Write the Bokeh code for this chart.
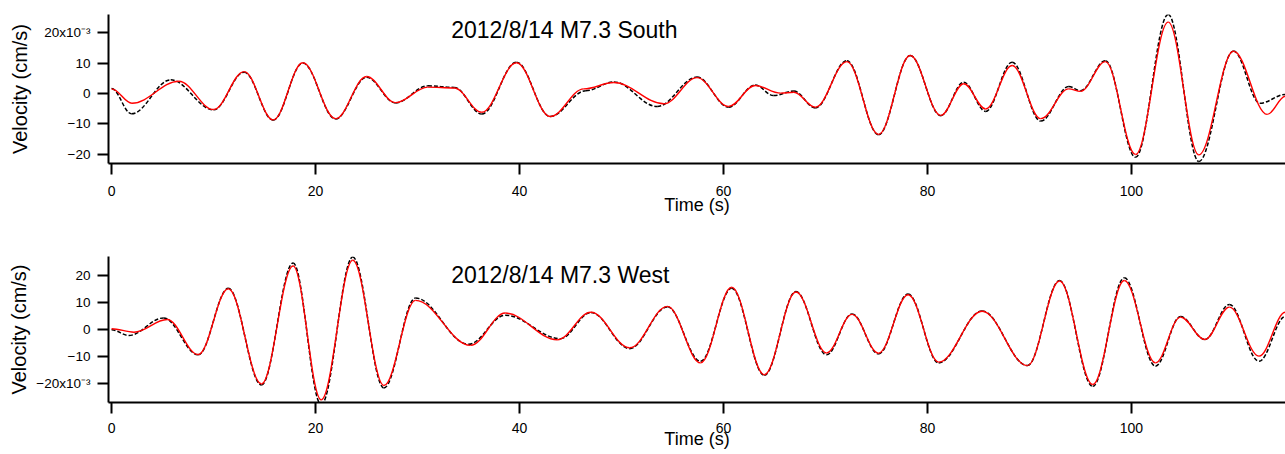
import numpy as np
from bokeh.plotting import figure
from bokeh.layouts import column
from bokeh.models import Range1d, FixedTicker, Label, ColumnDataSource
from bokeh.embed import file_html
from bokeh.resources import INLINE

# Turning points of each trace: time (s) and velocity (x10^-3 cm/s)
south_obs_t = [0, 1.96, 5.8, 10.0, 13.0, 15.85, 18.75, 21.96, 25.0, 27.84, 31.0, 33.6,
               36.3, 39.7, 43.0, 46.5, 49.25, 53.5, 57.4, 60.5, 63.1, 64.9, 66.9, 69.0,
               72.1, 75.2, 78.3, 81.3, 83.55, 85.7, 88.3, 91.1, 93.85, 95.0, 97.45, 100.4,
               103.6, 106.6, 110.0, 112.6, 115.1]
south_obs_v = [1.6, -6.7, 4.5, -5.4, 7.0, -8.8, 10.0, -8.4, 5.3, -3.1, 2.5, 2.0,
               -6.8, 10.3, -7.6, 0.9, 3.8, -4.3, 5.4, -4.5, 2.8, -0.7, 0.8, -4.8,
               10.8, -13.6, 12.5, -7.3, 3.7, -5.9, 10.3, -9.1, 2.3, 0.9, 10.8, -21.0,
               26.0, -22.4, 14.0, -3.2, -0.3]

south_syn_t = [0, 2.0, 6.6, 10.0, 13.0, 15.85, 18.75, 21.96, 25.0, 27.84, 31.0, 33.6,
               36.3, 39.7, 43.0, 46.3, 49.25, 54.15, 57.4, 60.5, 63.1, 65.6, 66.9, 69.0,
               72.1, 75.2, 78.3, 81.3, 83.55, 85.7, 88.3, 91.1, 93.85, 95.0, 97.45, 100.4,
               103.6, 106.6, 110.0, 113.3, 115.1]
south_syn_v = [1.5, -3.2, 4.0, -5.3, 7.2, -8.7, 10.1, -8.3, 5.6, -3.0, 2.1, 1.8,
               -6.2, 10.1, -7.6, 1.5, 3.6, -3.4, 5.2, -4.3, 2.6, 0.1, 0.4, -4.5,
               10.5, -13.5, 12.5, -7.2, 3.2, -5.1, 9.2, -8.3, 1.5, 0.7, 10.5, -20.1,
               23.5, -20.2, 13.9, -6.9, -0.9]

west_obs_t = [0, 1.7, 5.1, 8.5, 11.45, 14.7, 17.8, 20.55, 23.65, 26.7, 29.8, 35.0,
              38.6, 44.0, 47.0, 50.8, 54.5, 57.75, 60.8, 64.0, 67.1, 70.1, 72.6, 75.2,
              78.1, 81.1, 85.35, 89.8, 92.95, 96.2, 99.3, 102.35, 104.8, 107.2, 109.6,
              112.5, 115.1]
west_obs_v = [0.0, -2.1, 4.4, -9.3, 15.4, -20.5, 24.8, -27.8, 27.0, -21.6, 11.8, -5.4,
              5.4, -3.3, 6.4, -7.0, 8.5, -11.7, 15.4, -16.9, 14.2, -9.3, 5.9, -9.0,
              13.3, -12.3, 7.0, -13.3, 18.3, -21.0, 19.3, -13.5, 4.9, -3.6, 9.4,
              -11.7, 5.0]

west_syn_t = [0, 2.2, 5.45, 8.5, 11.45, 14.7, 17.8, 20.55, 23.65, 26.7, 29.8, 35.2,
              38.6, 43.7, 47.0, 50.8, 54.5, 57.75, 60.8, 64.0, 67.1, 70.1, 72.6, 75.2,
              78.1, 81.1, 85.35, 89.8, 92.95, 96.2, 99.3, 102.35, 104.8, 107.2, 109.6,
              112.5, 115.1]
west_syn_v = [0.4, -0.9, 3.8, -9.2, 15.2, -20.1, 23.7, -26.0, 25.8, -20.7, 10.9, -5.8,
              6.2, -3.7, 6.5, -6.7, 8.7, -12.3, 15.8, -16.7, 14.0, -8.6, 5.7, -8.7,
              13.0, -12.0, 6.9, -13.3, 18.1, -20.3, 18.3, -12.3, 4.7, -3.6, 8.4,
              -9.8, 6.5]

time_ticks = [0, 20, 40, 60, 80, 100]
vel_ticks = [-20, -10, 0, 10, 20]
south_tick_labels = ["\u221220", "\u221210", "0", "10", "20x10\u207b\u00b3"]
west_tick_labels = ["\u221220x10\u207b\u00b3", "\u221210", "0", "10", "20"]
time_label = "Time (s)"
vel_label = "Velocity (cm/s)"

FONT = "Liberation Sans"


def smooth_segments(t, v):
    """Cubic Bezier pieces between turning points, flat at each turning point."""
    t = np.asarray(t, float)
    v = np.asarray(v, float)
    dt = np.diff(t)
    k = 0.3634  # best cubic fit to a half-cosine
    return ColumnDataSource(dict(
        x0=t[:-1], y0=v[:-1], x1=t[1:], y1=v[1:],
        cx0=t[:-1] + k * dt, cy0=v[:-1], cx1=t[1:] - k * dt, cy1=v[1:]))


def panel(title, obs_t, obs_v, syn_t, syn_v, y_lo, y_hi, tick_labels,
          height, b_top, b_bottom, ylab_standoff, xtick_standoff, xlab_standoff, title_y):
    p = figure(width=1285, height=height, title=None,
               x_range=Range1d(-0.3, 115.1), y_range=Range1d(y_lo, y_hi),
               output_backend="svg", toolbar_location=None,
               min_border_left=108, min_border_right=0,
               min_border_top=b_top, min_border_bottom=b_bottom)
    p.outline_line_color = None
    p.grid.visible = False

    kw = dict(x0="x0", y0="y0", x1="x1", y1="y1",
              cx0="cx0", cy0="cy0", cx1="cx1", cy1="cy1")
    p.bezier(source=smooth_segments(obs_t, obs_v), line_color="black",
             line_width=1.5, line_dash="4 2", **kw)
    p.bezier(source=smooth_segments(syn_t, syn_v), line_color="#ff0000",
             line_width=1.4, **kw)

    for ax in (p.xaxis[0], p.yaxis[0]):
        ax.axis_line_width = 2
        ax.major_tick_line_width = 2
        ax.major_tick_in = 0
        ax.major_tick_out = 11
        ax.minor_tick_line_color = None
        ax.major_label_text_font = FONT
        ax.major_label_text_color = "black"
        ax.axis_label_text_font = FONT
        ax.axis_label_text_font_style = "normal"
        ax.axis_label_text_color = "black"

    p.xaxis.ticker = FixedTicker(ticks=time_ticks)
    p.xaxis.major_label_text_font_size = "14px"
    p.xaxis.major_label_standoff = xtick_standoff
    # the time title sits tight under the tick labels
    p.xaxis.axis_label = time_label
    p.xaxis.axis_label_text_font_size = "18px"
    p.xaxis.axis_label_standoff = xlab_standoff

    p.yaxis.ticker = FixedTicker(ticks=vel_ticks)
    p.yaxis.major_label_overrides = dict(zip(vel_ticks, tick_labels))
    p.yaxis.major_label_text_font_size = "13.5px"
    p.yaxis.major_label_standoff = 7
    p.yaxis.axis_label = vel_label
    p.yaxis.axis_label_text_font_size = "20px"
    p.yaxis.axis_label_standoff = ylab_standoff

    p.add_layout(Label(x=33.3, y=title_y, text=title, text_font=FONT,
                       text_font_size="23px", text_color="black",
                       text_baseline="middle", text_align="left"))
    return p


top = panel("2012/8/14 M7.3 South", south_obs_t, south_obs_v, south_syn_t, south_syn_v,
            -23.06, 26.0, south_tick_labels, 227, 14, 64, 10, 11, -4, 20.8)
bottom = panel("2012/8/14 M7.3 West", west_obs_t, west_obs_v, west_syn_t, west_syn_v,
               -27.0, 27.2, west_tick_labels, 227, 29, 52, 3, 9, -7, 20.2)

layout = column(top, bottom, spacing=0)
open("out.html", "w").write(file_html(layout, INLINE))
